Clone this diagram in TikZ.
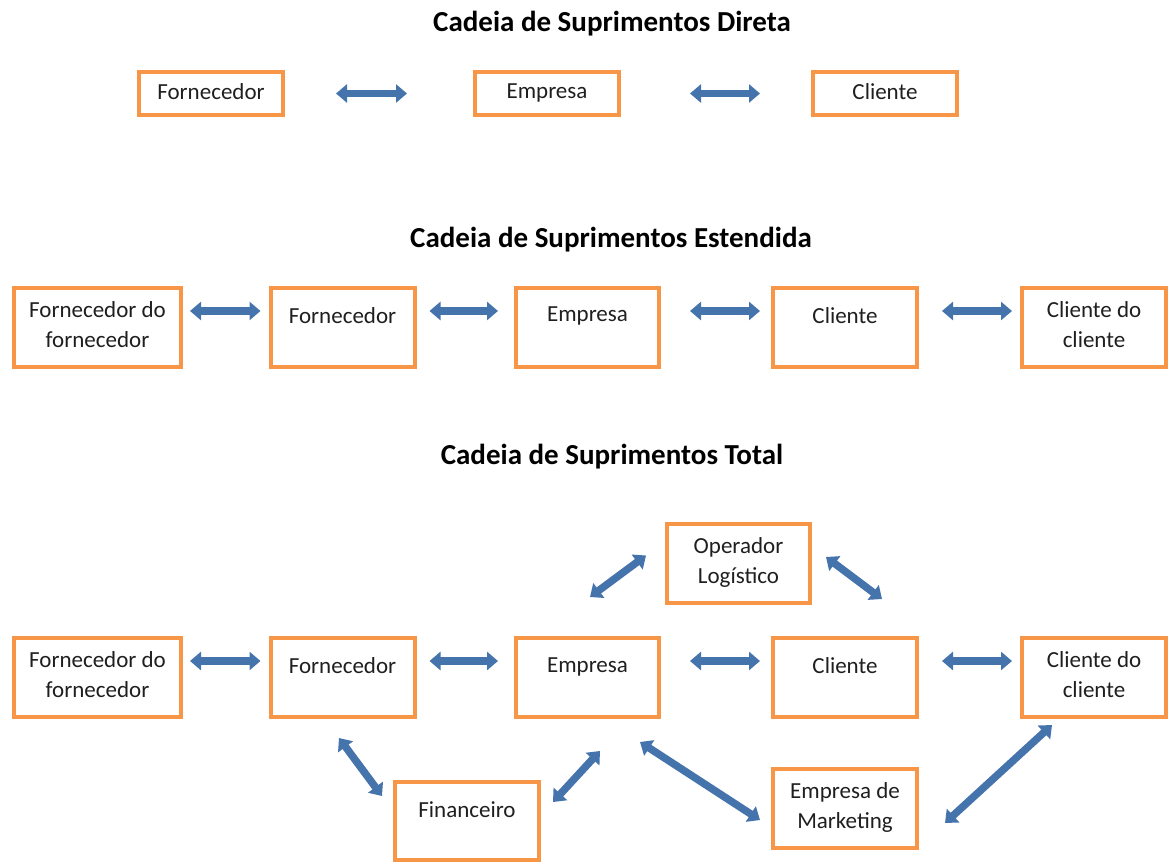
\documentclass[tikz,border=0pt]{standalone}
\usepackage{fontspec}
\setmainfont{Carlito}
\usetikzlibrary{arrows.meta}
\definecolor{boxorange}{HTML}{F79646}
\definecolor{arrowblue}{HTML}{4573AC}
\definecolor{txtgray}{HTML}{1F1F1F}
\tikzset{
  box/.style={draw=boxorange, line width=4pt, inner sep=0pt, outer sep=0pt,
    minimum width=144pt, minimum height=79pt},
  boxtext/.style={anchor=north, align=center, inner sep=0pt,
    font=\fontsize{23}{30}\selectfont, text=txtgray},
  onetext/.style={label={[boxtext,yshift=-19.5pt]north:#1}},
  twotext/.style={label={[boxtext,yshift=-13.5pt]north:#1}},
  title/.style={font=\fontsize{29}{34}\selectfont\bfseries},
  link/.style={arrowblue, line width=7.5pt,
    {Triangle[length=11pt,width=18pt]}-{Triangle[length=11pt,width=18pt]}},
}

\begin{document}
\begin{tikzpicture}[x=1pt,y=-1pt]
  \useasboundingbox (0,0) rectangle (1170,863);

  % direta
  \node[title] (t1) at (612,24) {Cadeia de Suprimentos Direta};
  \node[box, minimum height=43pt, label={[boxtext,yshift=-11.5pt]north:Fornecedor}] (forn1) at (211,93.5) {};
  \node[box, minimum height=43pt, label={[boxtext,yshift=-11.5pt]north:Empresa}] (emp1) at (547,93.5) {};
  \node[box, minimum height=43pt, label={[boxtext,yshift=-11.5pt]north:Cliente}] (cli1) at (885,93.5) {};
  \draw [link, shorten <=53pt, shorten >=68pt] (forn1) -- (emp1);
  \draw [link, shorten <=71pt, shorten >=53pt] (emp1) -- (cli1);

  % estendida
  \node[title] (t2) at (611,240) {Cadeia de Suprimentos Estendida};
  \node[box, minimum width=167pt, twotext={Fornecedor do\\fornecedor}] (ff2) at (97.5,327) {};
  \node[box, onetext=Fornecedor] (f2) at (342.5,327) {};
  \node[box, minimum width=143pt, onetext=Empresa] (e2) at (587.5,327) {};
  \node[box, onetext=Cliente] (c2) at (845,327) {};
  \node[box, twotext={Cliente do\\cliente}] (cc2) at (1094,327) {};
  \draw [link, shorten <=9pt, shorten >=10pt] ([yshift=16pt]ff2.east) -- ([yshift=16pt]f2.west);
  \draw [link, shorten <=15pt, shorten >=18pt] ([yshift=16pt]f2.east) -- ([yshift=16pt]e2.west);
  \draw [link, shorten <=31pt, shorten >=13pt] ([yshift=16pt]e2.east) -- ([yshift=16pt]c2.west);
  \draw [link, shorten <=25pt, shorten >=10pt] ([yshift=16pt]c2.east) -- ([yshift=16pt]cc2.west);

  % total
  \node[title] (t3) at (612,457) {Cadeia de Suprimentos Total};
  \node[box, minimum width=167pt, twotext={Fornecedor do\\fornecedor}] (ff3) at (97.5,677.5) {};
  \node[box, onetext=Fornecedor] (f3) at (342.5,677.5) {};
  \node[box, minimum width=143pt, onetext=Empresa] (e3) at (587.5,677.5) {};
  \node[box, onetext=Cliente] (c3) at (845,677.5) {};
  \node[box, twotext={Cliente do\\cliente}] (cc3) at (1094,677.5) {};
  \node[box, minimum width=143pt, twotext={Operador\\Logístico}] (op) at (738.5,563.5) {};
  \node[box, minimum height=78pt, onetext=Financeiro] (fin) at (467,821) {};
  \node[box, twotext={Empresa de\\Marketing}] (mkt) at (845,808.5) {};
  \draw [link, shorten <=9pt, shorten >=10pt] ([yshift=16.5pt]ff3.east) -- ([yshift=16.5pt]f3.west);
  \draw [link, shorten <=15pt, shorten >=18pt] ([yshift=16.5pt]f3.east) -- ([yshift=16.5pt]e3.west);
  \draw [link, shorten <=31pt, shorten >=13pt] ([yshift=16.5pt]e3.east) -- ([yshift=16.5pt]c3.west);
  \draw [link, shorten <=25pt, shorten >=10pt] ([yshift=16.5pt]c3.east) -- ([yshift=16.5pt]cc3.west);
  \draw [link] ([shift={(-77,-6)}]op.south west) -- ([shift={(-21,-8)}]op.west);
  \draw [link] ([shift={(16,-6.5)}]op.east) -- ([shift={(72,-4)}]op.south east);
  \draw [link] ([shift={(-3.5,21)}]f3.south) -- ([shift={(-13,14)}]fin.north west);
  \draw [link] ([shift={(14,20)}]fin.north east) -- ([shift={(12.5,34)}]e3.south);
  \draw [link] ([shift={(-19,25)}]e3.south east) -- ([shift={(-13,11.5)}]mkt.west);
  \draw [link] ([shift={(28,14.5)}]mkt.east) -- ([shift={(-42,8)}]cc3.south);
\end{tikzpicture}
\end{document}
